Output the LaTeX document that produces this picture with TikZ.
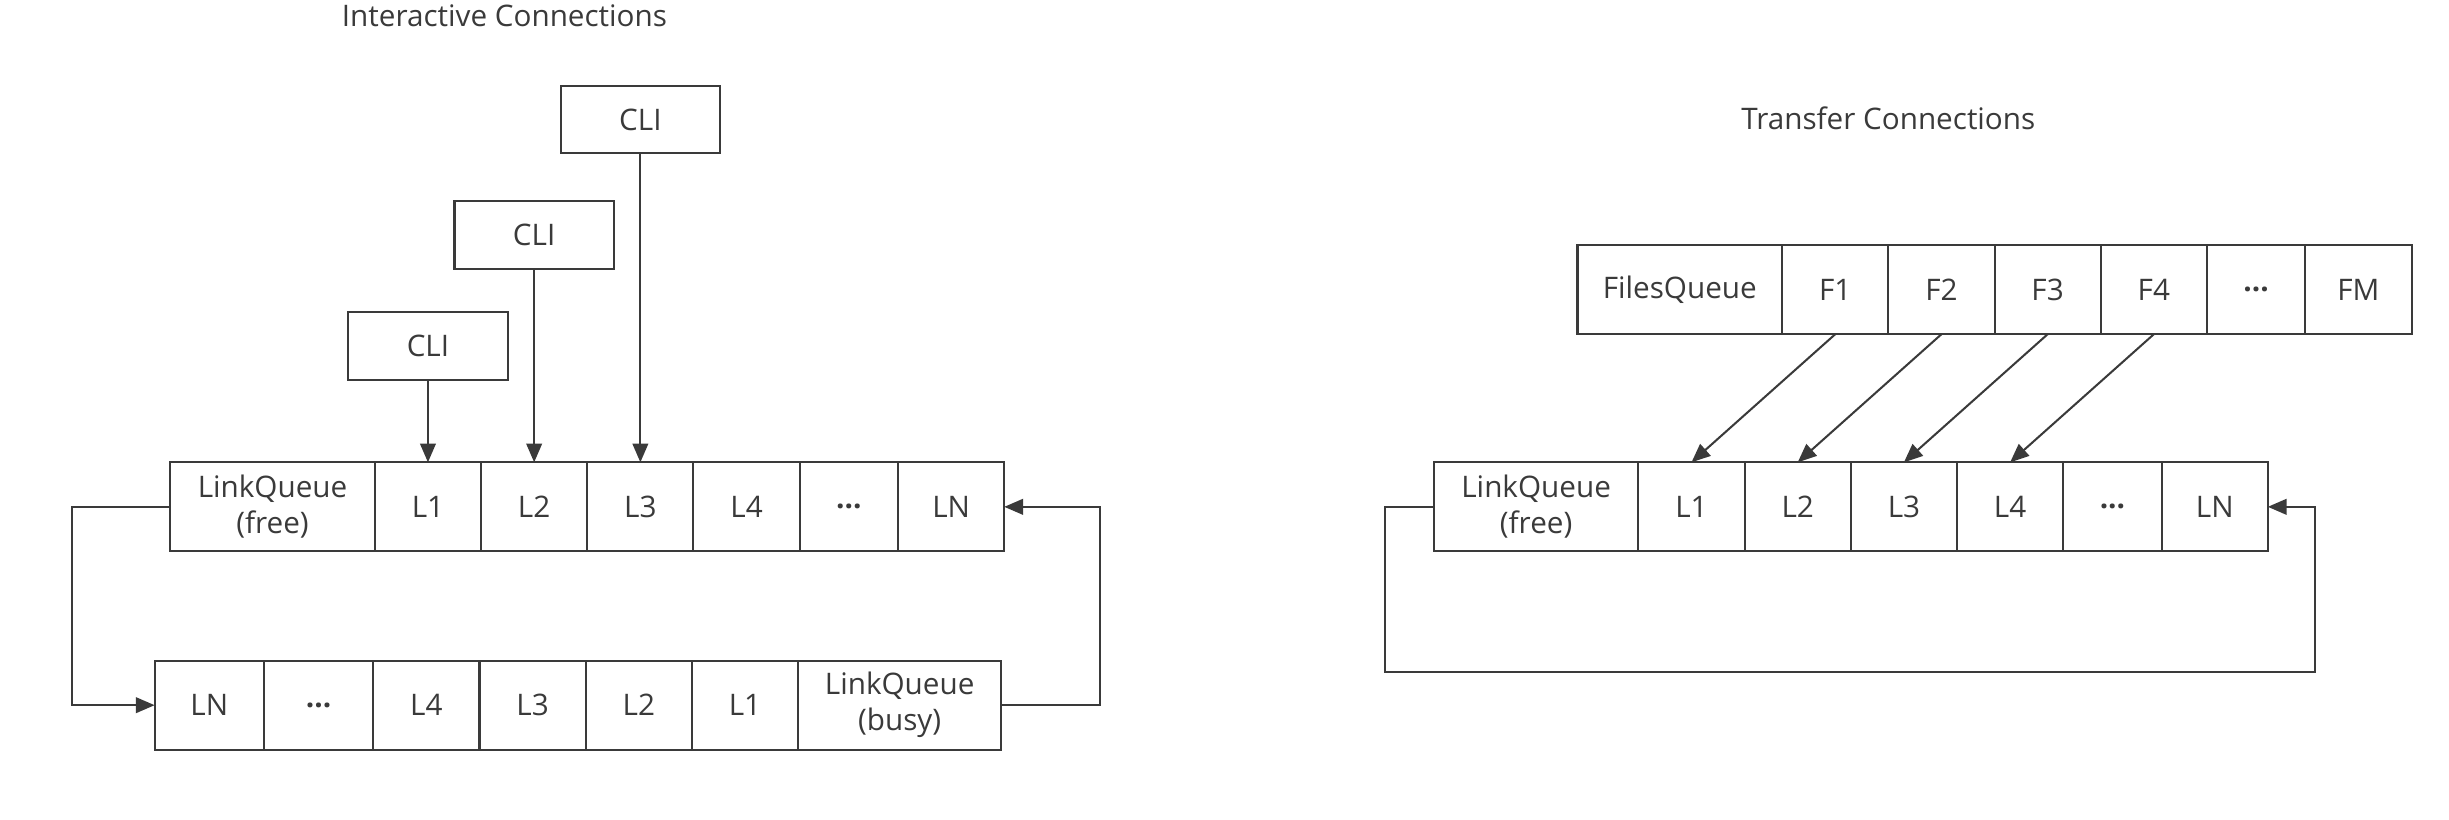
\documentclass[tikz,border=0pt]{standalone}
\usepackage{fontspec}
\setmainfont{Open Sans}
\usetikzlibrary{positioning, calc, arrows.meta}
\definecolor{linegray}{HTML}{3A3A3A}

\begin{document}
\begin{tikzpicture}[x=0.5pt, y=-0.5pt, line width=0.65pt, color=linegray,
		cell/.style={draw, outer sep=0pt, inner sep=0pt, minimum height=28.5pt, minimum width=34pt, align=center, font=\fontsize{9.5}{11.5}\selectfont},
		headcell/.style={cell, minimum width=65.5pt},
		dotcell/.style={cell, minimum width=31.5pt},
		clibox/.style={cell, minimum width=51pt, minimum height=21.5pt},
		title/.style={font=\fontsize{9.5}{11.5}\selectfont},
		flow/.style={-{Triangle[length=6pt, width=5pt]}}]
		\useasboundingbox (0, 0) rectangle (1568, 524.4);
		
		% interactive connections
		\node[title] (leftTitle) at (323, 10) {Interactive Connections};
		
		\node[headcell, anchor=west] (freeq) at (109, 324.5) {LinkQueue\\(free)};
		\node[cell, right=0pt of freeq] (freeA) {L1};
		\node[cell, right=0pt of freeA] (freeB) {L2};
		\node[cell, right=0pt of freeB] (freeC) {L3};
		\node[cell, right=0pt of freeC] (freeD) {L4};
		\node[dotcell, right=0pt of freeD] (freeDots) {\textbf{...}};
		\node[cell, right=0pt of freeDots] (freeN) {LN};
		
		\node[clibox, above=26.5pt of freeA] (cliA) {CLI};
		\node[clibox, above=62pt of freeB] (cliB) {CLI};
		\node[clibox, above=99pt of freeC] (cliC) {CLI};
		\draw[flow] (cliA.south) -- (freeA.north);
		\draw[flow] (cliB.south) -- (freeB.north);
		\draw[flow] (cliC.south) -- (freeC.north);
		
		\node[cell, minimum width=35pt, anchor=west] (busyN) at (99, 451.5) {LN};
		\node[cell, minimum width=35pt, right=0pt of busyN] (busyDots) {\textbf{...}};
		\node[cell, right=0pt of busyDots] (busyD) {L4};
		\node[cell, right=0pt of busyD] (busyC) {L3};
		\node[cell, right=0pt of busyC] (busyB) {L2};
		\node[cell, right=0pt of busyB] (busyA) {L1};
		\node[headcell, minimum width=65pt, right=0pt of busyA] (busyq) {LinkQueue\\(busy)};
		
		\draw[flow] (freeq.west) -- ++(-63, 0) |- (busyN.west);
		\draw[flow] (busyq.east) -- ++(63, 0) |- (freeN.east);
		
		% transfer connections
		\node[title] (rightTitle) at (1209, 76) {Transfer Connections};
		
		\node[headcell, anchor=west] (filesq) at (1010, 185.5) {FilesQueue};
		\node[cell, right=0pt of filesq] (fileA) {F1};
		\node[cell, right=0pt of fileA] (fileB) {F2};
		\node[cell, right=0pt of fileB] (fileC) {F3};
		\node[cell, right=0pt of fileC] (fileD) {F4};
		\node[dotcell, right=0pt of fileD] (fileDots) {\textbf{...}};
		\node[cell, right=0pt of fileDots] (fileM) {FM};
		
		\node[headcell, anchor=west] (linkq) at (918, 324.5) {LinkQueue\\(free)};
		\node[cell, right=0pt of linkq] (linkA) {L1};
		\node[cell, right=0pt of linkA] (linkB) {L2};
		\node[cell, right=0pt of linkB] (linkC) {L3};
		\node[cell, right=0pt of linkC] (linkD) {L4};
		\node[dotcell, right=0pt of linkD] (linkDots) {\textbf{...}};
		\node[cell, right=0pt of linkDots] (linkN) {LN};
		
		\draw[flow] (fileA.south) -- (linkA.north);
		\draw[flow] (fileB.south) -- (linkB.north);
		\draw[flow] (fileC.south) -- (linkC.north);
		\draw[flow] (fileD.south) -- (linkD.north);
		
		\coordinate (linkLoop) at (1482, 430);
		\draw[flow] (linkq.west) -- ++(-31, 0) |- (linkLoop) |- (linkN.east);
	\end{tikzpicture}
\end{document}
